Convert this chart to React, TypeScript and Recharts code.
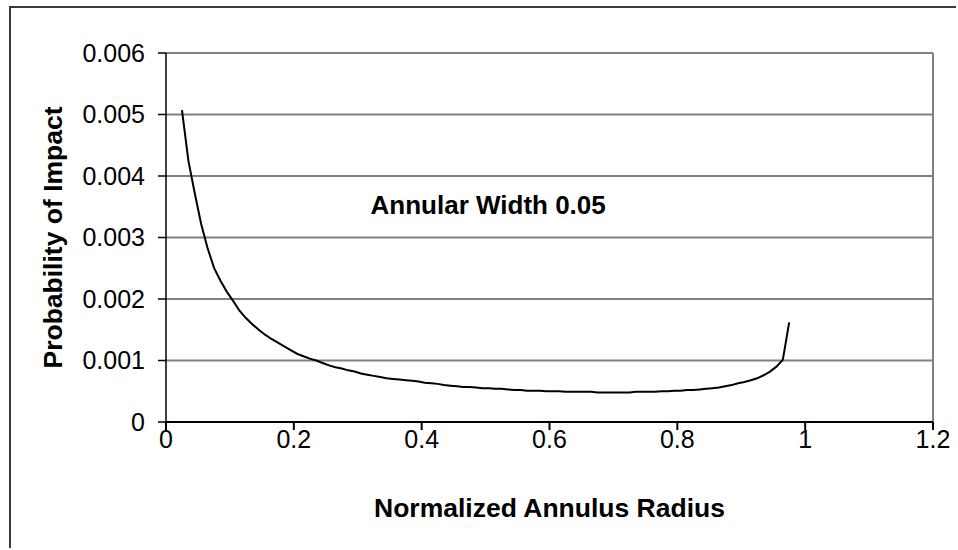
import { LineChart, Line, XAxis, YAxis, CartesianGrid, ReferenceLine, ReferenceDot } from 'recharts';

// normalized annulus radius (x) and probability of impact (y)
const radius = [
  0.025, 0.035, 0.045, 0.055, 0.065, 0.075, 0.085, 0.095, 0.105, 0.115,
  0.125, 0.135, 0.145, 0.155, 0.165, 0.175, 0.185, 0.195, 0.205, 0.215,
  0.225, 0.235, 0.245, 0.255, 0.265, 0.275, 0.285, 0.295, 0.305, 0.315,
  0.325, 0.335, 0.345, 0.355, 0.365, 0.375, 0.385, 0.395, 0.405, 0.415,
  0.425, 0.435, 0.445, 0.455, 0.465, 0.475, 0.485, 0.495, 0.505, 0.515,
  0.525, 0.535, 0.545, 0.555, 0.565, 0.575, 0.585, 0.595, 0.605, 0.615,
  0.625, 0.635, 0.645, 0.655, 0.665, 0.675, 0.685, 0.695, 0.705, 0.715,
  0.725, 0.735, 0.745, 0.755, 0.765, 0.775, 0.785, 0.795, 0.805, 0.815,
  0.825, 0.835, 0.845, 0.855, 0.865, 0.875, 0.885, 0.895, 0.905, 0.915,
  0.925, 0.935, 0.945, 0.955, 0.965, 0.975,
];

const probability = [
  0.00507, 0.00425, 0.00372, 0.00322, 0.00283, 0.00251, 0.0023, 0.00212, 0.00197, 0.00181,
  0.00169, 0.00159, 0.0015, 0.00142, 0.00135, 0.00129, 0.00123, 0.00117, 0.00111, 0.00107,
  0.00103, 0.001, 0.00096, 0.00092, 0.00089, 0.00087, 0.00084, 0.00082, 0.00079, 0.00077,
  0.00075, 0.00073, 0.00071, 0.0007, 0.00069, 0.00068, 0.00067, 0.00066, 0.00064, 0.00063,
  0.00062, 0.0006, 0.00059, 0.00058, 0.00057, 0.00057, 0.00056, 0.00055, 0.00055, 0.00054,
  0.00054, 0.00053, 0.00052, 0.00052, 0.00051, 0.00051, 0.00051, 0.0005, 0.0005, 0.0005,
  0.00049, 0.00049, 0.00049, 0.00049, 0.00049, 0.00048, 0.00048, 0.00048, 0.00048, 0.00048,
  0.00048, 0.00049, 0.00049, 0.00049, 0.00049, 0.0005, 0.0005, 0.00051, 0.00051, 0.00052,
  0.00052, 0.00053, 0.00054, 0.00055, 0.00056, 0.00058, 0.0006, 0.00063, 0.00065, 0.00068,
  0.00071, 0.00076, 0.00082, 0.0009, 0.00101, 0.00162,
];

const xTicks = [0, 0.2, 0.4, 0.6, 0.8, 1, 1.2];
const yTicks = [0, 0.001, 0.002, 0.003, 0.004, 0.005, 0.006];

const data = radius.map((r, i) => ({ r, p: probability[i] }));

const FONT = '"Liberation Sans", Arial, sans-serif';

export default function App() {
  return (
    <div style={{ position: 'absolute', left: 0, top: 0, width: 956, height: 548, background: '#fff' }}>
      <div
        style={{
          position: 'absolute',
          left: 9,
          top: 6,
          width: 945,
          height: 540,
          borderLeft: '2px solid #3a3a3a',
          borderTop: '2px solid #3a3a3a',
        }}
      />
      <div style={{ position: 'absolute', left: 0, top: 0 }}>
        <LineChart
          width={956}
          height={548}
          data={data}
          margin={{ top: 53, right: 23, left: 0, bottom: 0 }}
          style={{ fontFamily: FONT }}
        >
          <CartesianGrid horizontal vertical={false} stroke="#808080" strokeWidth={2} />
          <ReferenceLine x={1.2} stroke="#808080" strokeWidth={2} />
          <XAxis
            type="number"
            dataKey="r"
            domain={[0, 1.2]}
            ticks={xTicks}
            height={126}
            stroke="#000"
            strokeWidth={2}
            tickSize={8}
            tickMargin={0}
            tick={{ fill: '#000', fontSize: 25, fontFamily: FONT }}
            label={{
              value: 'Normalized Annulus Radius',
              position: 'insideBottom',
              offset: 31,
              fill: '#000',
              fontSize: 26.5,
              fontWeight: 'bold',
              fontFamily: FONT,
            }}
          />
          <YAxis
            type="number"
            domain={[0, 0.006]}
            ticks={yTicks}
            width={166}
            stroke="#000"
            strokeWidth={1.5}
            tickSize={8}
            tickMargin={13}
            tick={{ fill: '#000', fontSize: 25, fontFamily: FONT }}
            label={{
              value: 'Probability of Impact',
              angle: -90,
              position: 'insideLeft',
              offset: 53,
              fill: '#000',
              fontSize: 26.5,
              fontWeight: 'bold',
              fontFamily: FONT,
              style: { textAnchor: 'middle' },
            }}
          />
          <ReferenceDot
            x={0.32}
            y={0.00353}
            r={0}
            fill="none"
            stroke="none"
            label={{
              value: 'Annular Width 0.05',
              position: 'right',
              offset: 0,
              fill: '#000',
              fontSize: 26,
              fontWeight: 'bold',
              fontFamily: FONT,
            }}
          />
          <Line
            type="linear"
            dataKey="p"
            stroke="#000"
            strokeWidth={2}
            dot={false}
            isAnimationActive={false}
          />
        </LineChart>
      </div>
    </div>
  );
}
